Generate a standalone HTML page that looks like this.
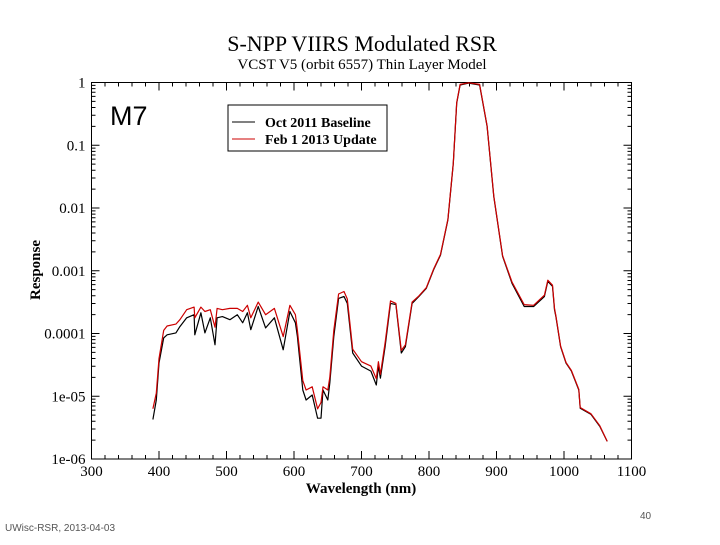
<!DOCTYPE html>
<html><head><meta charset="utf-8"><style>
body{margin:0;background:#fff;width:720px;height:540px;overflow:hidden}
svg text{font-family:"Liberation Serif",serif}
</style></head><body>
<svg id="c" width="720" height="540">
<text x="362" y="51" text-anchor="middle" font-size="22">S-NPP VIIRS Modulated RSR</text>
<text x="362" y="69" text-anchor="middle" font-size="15">VCST V5 (orbit 6557) Thin Layer Model</text>
<text transform="translate(40,270) rotate(-90)" text-anchor="middle" font-size="15" font-weight="bold">Response</text>
<text x="361" y="493" text-anchor="middle" font-size="15" font-weight="bold">Wavelength (nm)</text>
<text x="110" y="125" font-size="27" style="font-family:'Liberation Sans',sans-serif">M7</text>
<g>
<rect x="228" y="105" width="159" height="46" fill="#fff" stroke="#000"/>
<line x1="232" y1="122" x2="255" y2="122" stroke="#000"/>
<text x="265" y="127" font-size="14" font-weight="bold">Oct 2011 Baseline</text>
<line x1="232" y1="139" x2="255" y2="139" stroke="#c00"/>
<text x="265" y="144" font-size="14" font-weight="bold">Feb 1 2013 Update</text>
</g>
<text x="5" y="531" font-size="10" fill="#555" style="font-family:'Liberation Sans',sans-serif">UWisc-RSR, 2013-04-03</text>
<text x="640" y="519" font-size="10" fill="#555" style="font-family:'Liberation Sans',sans-serif">40</text>
</svg>
<script>
const wavelengths=[391,396,400,407,412,425,431,441,452,453,462,468,476,483,486,494,505,516,524,531,536,547,558,571,584,594,602,605,613,618,627,635,640,643,650,653,659,666,674,679,687,700,714,722,725,728,735,743,751,759,765,775,785,796,807,817,828,836,841,846,859,875,886,896,909,923,941,955,971,976,983,986,988,995,1003,1011,1022,1024,1040,1053,1064];
const baselineLog=[-5.37,-5.06,-4.47,-4.07,-4.02,-3.99,-3.89,-3.75,-3.70,-4.02,-3.67,-3.99,-3.75,-4.18,-3.75,-3.73,-3.78,-3.70,-3.83,-3.67,-3.94,-3.57,-3.91,-3.75,-4.26,-3.65,-3.83,-4.05,-4.90,-5.06,-4.98,-5.35,-5.35,-4.90,-5.06,-4.79,-4.05,-3.44,-3.41,-3.52,-4.31,-4.52,-4.60,-4.82,-4.52,-4.71,-4.21,-3.52,-3.54,-4.31,-4.21,-3.52,-3.41,-3.28,-2.98,-2.75,-2.19,-1.29,-0.33,-0.04,-0.01,-0.04,-0.70,-1.82,-2.77,-3.20,-3.57,-3.57,-3.41,-3.17,-3.25,-3.62,-3.73,-4.21,-4.47,-4.60,-4.90,-5.19,-5.29,-5.48,-5.72];
const updateLog=[-5.2,-4.95,-4.4,-3.95,-3.88,-3.85,-3.78,-3.62,-3.58,-3.75,-3.58,-3.65,-3.62,-3.9,-3.6,-3.62,-3.6,-3.6,-3.65,-3.55,-3.75,-3.5,-3.7,-3.6,-4.05,-3.55,-3.7,-3.95,-4.75,-4.9,-4.85,-5.2,-5.1,-4.85,-4.9,-4.7,-3.95,-3.37,-3.33,-3.45,-4.25,-4.45,-4.52,-4.72,-4.45,-4.65,-4.15,-3.48,-3.52,-4.27,-4.18,-3.5,-3.4,-3.27,-2.97,-2.74,-2.18,-1.28,-0.32,-0.03,-0.005,-0.03,-0.69,-1.81,-2.76,-3.18,-3.54,-3.55,-3.39,-3.15,-3.23,-3.6,-3.72,-4.2,-4.46,-4.59,-4.89,-5.18,-5.28,-5.47,-5.72];
const xTicks=[300,400,500,600,700,800,900,1000,1100];
const yTickLabels=["1","0.1","0.01","0.001","0.0001","1e-05","1e-06"];
const L=91.5,R=631.5,T=82.5,B=459;
const X=v=>L+(v-300)/800*(R-L);
const Y=lg=>T+(-lg)/6*(B-T);
const svg=document.getElementById('c');
const NS='http://www.w3.org/2000/svg';
function mk(tag,attrs){const e=document.createElementNS(NS,tag);for(const k in attrs)e.setAttribute(k,attrs[k]);svg.appendChild(e);return e;}
const frame=mk('rect',{x:L,y:T,width:R-L,height:B-T,fill:'none',stroke:'#000','stroke-width':1});


let d='';
for(let v=300;v<=1100;v+=20){const x=X(v);const len=(v%100===0)?8:4;d+=`M${x},${B}v${-len}M${x},${T}v${len}`;}
for(let dec=0;dec<6;dec++){for(let m=1;m<10;m++){const lg=-dec-1+Math.log10(m);const y=Y(lg);const len=m===1?8:4;d+=`M${L},${y}h${len}M${R},${y}h${-len}`;}}
d+=`M${L},${T}h8M${R},${T}h-8`;
const ticks=mk('path',{d:d,stroke:'#000','stroke-width':1,fill:'none'});


xTicks.forEach(v=>{const t=mk('text',{x:X(v),y:B+17,'text-anchor':'middle','font-size':15});t.textContent=v;

});
yTickLabels.forEach((s,i)=>{const t=mk('text',{x:L-6,y:Y(-i)+5,'text-anchor':'end','font-size':15});t.textContent=s;

});
function line(vals,color,name){const p=wavelengths.map((w,i)=>X(w).toFixed(1)+','+Y(vals[i]).toFixed(1)).join(' ');
const e=mk('polyline',{points:p,fill:'none',stroke:color,'stroke-width':1.2,'stroke-linejoin':'round'});

}
line(baselineLog,'#000','series-baseline');
line(updateLog,'#c00','series-update');
</script>
</body></html>
